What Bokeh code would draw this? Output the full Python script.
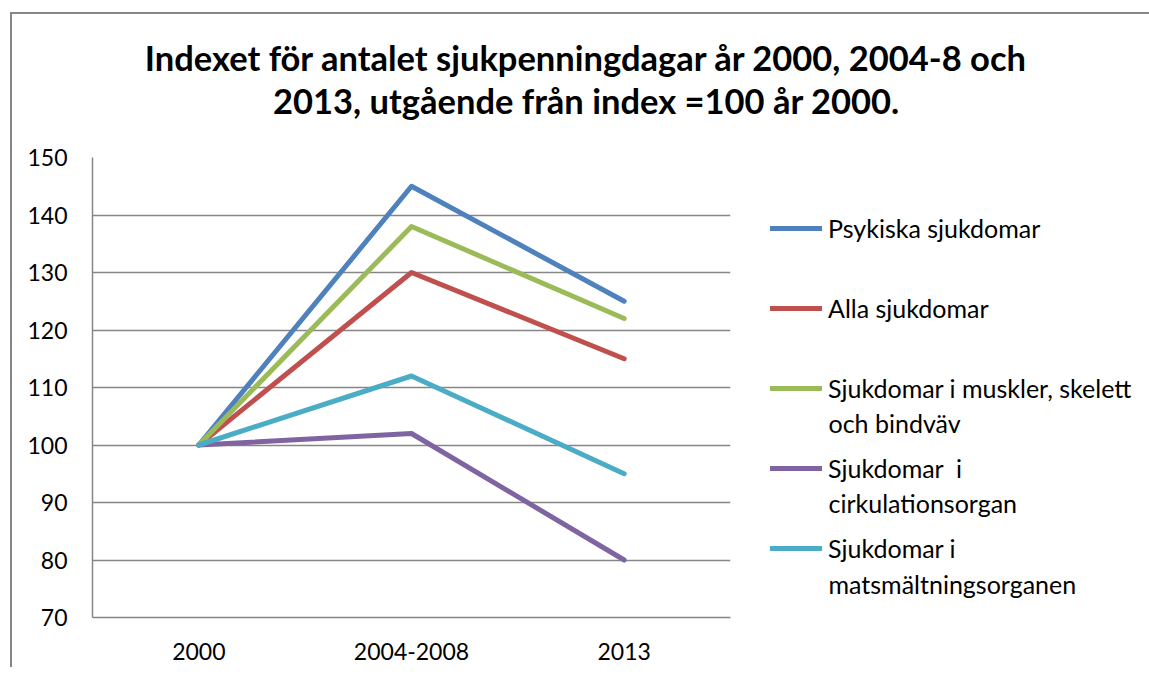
from bokeh.plotting import figure
from bokeh.layouts import column, row
from bokeh.models import (Range1d, FactorRange, Legend, LegendItem, Label,
                          FixedTicker)
from bokeh.embed import file_html
from bokeh.resources import INLINE

# ---- data ----
categories = ["2000", "2004-2008", "2013"]
psykiska = [100, 145, 125]
alla = [100, 130, 115]
muskler = [100, 138, 122]
cirkulation = [100, 102, 80]
matsmaltning = [100, 112, 95]

series_names = ["Psykiska sjukdomar", "Alla sjukdomar",
                "Sjukdomar i muskler, skelett", "Sjukdomar  i",
                "Sjukdomar i"]
second_lines = ["", "", "och bindväv", "cirkulationsorgan",
                "matsmältningsorganen"]
title_lines = ["Indexet för antalet sjukpenningdagar år 2000, 2004-8 och",
               "2013, utgående från index =100 år 2000."]
y_ticks = [70, 80, 90, 100, 110, 120, 130, 140, 150]

colors = ["#4F81BD", "#C0504D", "#9BBB59", "#8064A2", "#4BACC6"]
FONT = "Lato"
GRAY = "#868686"
LW = 5

TOTAL_W = 1149
TITLE_H = 137
MAIN_W, MAIN_H = 740, 530
LEG_W = TOTAL_W - MAIN_W


def blank(fig):
    fig.outline_line_color = None
    fig.background_fill_color = None
    fig.border_fill_color = None
    fig.min_border = 0
    fig.xgrid.visible = False
    fig.ygrid.visible = False


# ---- title figure ----
tfig = figure(width=TOTAL_W, height=TITLE_H, x_range=Range1d(0, 1),
              y_range=Range1d(0, 1), x_axis_location=None,
              y_axis_location=None, output_backend="svg",
              toolbar_location=None)
blank(tfig)
for t, yy in zip(title_lines, [80, 37]):
    tfig.add_layout(Label(x=586, y=yy, x_units="screen", y_units="screen",
                          text=t, text_font=FONT, text_font_size="34.5px",
                          text_font_style="bold", text_baseline="middle",
                          text_align="center", text_color="#000000"))

# ---- main chart ----
p = figure(width=MAIN_W, height=MAIN_H, x_range=FactorRange(*categories),
           y_range=Range1d(70, 150), output_backend="svg",
           toolbar_location=None,
           min_border_left=92, min_border_right=10,
           min_border_top=20, min_border_bottom=50)
p.outline_line_color = None
p.border_fill_color = None
p.xgrid.grid_line_color = None
p.ygrid.grid_line_color = GRAY
p.ygrid.grid_line_width = 1.5
p.yaxis.ticker = FixedTicker(ticks=y_ticks)
for ax in (p.xaxis[0], p.yaxis[0]):
    ax.axis_line_color = GRAY
    ax.axis_line_width = 1.5
    ax.major_tick_line_color = None
    ax.minor_tick_line_color = None
    ax.major_tick_out = 0
    ax.major_tick_in = 0
    ax.major_label_text_font = FONT
    ax.major_label_text_font_size = "23px"
    ax.major_label_text_color = "#000000"
p.yaxis.major_label_standoff = 25
p.xaxis.major_label_standoff = 25

all_series = [psykiska, alla, muskler, cirkulation, matsmaltning]
for vals, c in zip(all_series, colors):
    p.line(x=categories, y=vals, line_color=c, line_width=LW,
           line_cap="round", line_join="round")

# ---- legend panel (its frame is aligned with the main frame) ----
lfig = figure(width=LEG_W, height=MAIN_H, x_range=Range1d(0, 1),
              y_range=Range1d(0, 1), x_axis_location=None,
              y_axis_location=None, output_backend="svg",
              toolbar_location=None)
blank(lfig)
# legend proxies: off-screen, only their style is shown in the legend
swatches = [lfig.line(x=[-1], y=[-1], line_color=c, line_width=LW,
                      line_cap="round") for c in colors]
legend = Legend(items=[LegendItem(label=n, renderers=[r])
                       for n, r in zip(series_names, swatches)],
                location=(30, 52), orientation="vertical",
                padding=0, margin=0, spacing=46,
                glyph_width=52, glyph_height=34, label_height=34,
                label_standoff=6,
                label_text_font=FONT, label_text_font_size="25px",
                label_text_color="#000000",
                border_line_alpha=0, background_fill_alpha=0)
lfig.add_layout(legend, "center")
for t, yy in zip(second_lines, [0, 0, 195, 115, 34]):
    if t:
        lfig.add_layout(Label(x=88, y=yy, x_units="screen", y_units="screen",
                              text=t, text_font=FONT, text_font_size="25px",
                              text_baseline="middle", text_align="left",
                              text_color="#000000"))

border_css = ("linear-gradient(#868686,#868686) 10px 12px / 2px 100% no-repeat, "
              "linear-gradient(#868686,#868686) 10px 12px / 100% 2px no-repeat")
layout = column(tfig, row(p, lfig, spacing=0), spacing=0,
                styles={"background": border_css})

open("out.html", "w").write(file_html(layout, INLINE))
